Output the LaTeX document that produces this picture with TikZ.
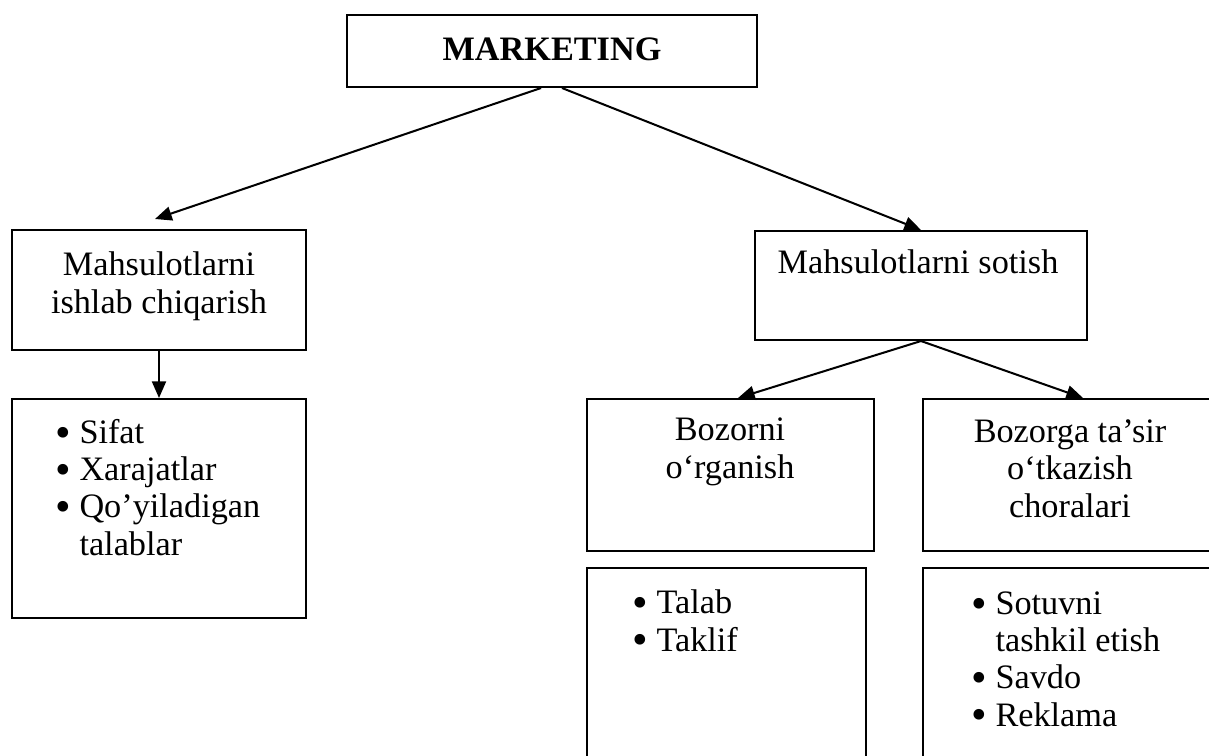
\documentclass[tikz,border=0pt]{standalone}
\usepackage{fontspec}
\setmainfont{Liberation Serif}
\usepackage{tikz}
\usetikzlibrary{arrows.meta,fit}
\definecolor{ink}{HTML}{000000}
\tikzset{
  box/.style={draw=ink, line width=1.15pt, inner sep=0pt, rectangle},
  arr/.style={draw=ink, line width=1.15pt, -{Triangle[length=9.5pt,width=8pt]}},
  lab/.style={text=ink, font=\fontsize{19.5}{21.2}\selectfont, inner sep=0pt, anchor=base},
  labc/.style={lab, align=center},
  list/.style={lab, align=left, anchor=base west},
}
\newcommand{\bul}{\raisebox{-0.11em}{\scalebox{1.3}{\textbullet}}~}
\newcommand{\bulgap}{\phantom{\scalebox{1.3}{\textbullet}}~}

\begin{document}
\begin{tikzpicture}[x=0.02cm,y=-0.02cm]
  \useasboundingbox (0,0) rectangle (1209,755);
  \clip (0,0) rectangle (1209,755);
  % boxes
  \node[box, fit={(347,15) (757,87)}] (mkt) {};
  \node[box, fit={(12,230) (306,350)}] (prod) {};
  \node[box, fit={(12,399) (306,618)}] (prodlist) {};
  \node[box, fit={(755,231) (1087,340)}] (sale) {};
  \node[box, fit={(587,399) (874,551)}] (study) {};
  \node[box, fit={(923,399) (1243,551)}] (act) {};
  \node[box, fit={(587,568) (866,790)}] (studylist) {};
  \node[box, fit={(923,568) (1243,790)}] (actlist) {};
  % texts (placed at the baseline of their last line)
  \node[lab, font=\fontsize{19.5}{21.2}\selectfont\bfseries] (mkttxt) at (552,60) {MARKETING};
  \node[labc] (prodtxt) at (159,313) {Mahsulotlarni\\ishlab chiqarish};
  \node[list] (prodlisttxt) at (55,555) {\bul Sifat\\\bul Xarajatlar\\\bul Qo’yiladigan\\\bulgap talablar};
  \node[lab] (saletxt) at (918,273) {Mahsulotlarni sotish};
  \node[labc] (studytxt) at (730,478) {Bozorni\\o‘rganish};
  \node[labc] (acttxt) at (1070,517) {Bozorga ta’sir\\o‘tkazish\\choralari};
  \node[list] (studylisttxt) at (632,651) {\bul Talab\\\bul Taklif};
  \node[list] (actlisttxt) at (971,726) {\bul Sotuvni\\\bulgap tashkil etish\\\bul Savdo\\\bul Reklama};
  % arrows
  \draw[arr] ([xshift=-0.22cm]mkt.south) -- ([xshift=-0.08cm,yshift=0.2cm]prod.north);
  \draw[arr] ([xshift=0.2cm]mkt.south) -- (sale.north);
  \draw[arr] (prod.south) -- (prodlist.north);
  \draw[arr] (sale.south) -- ([xshift=0.15cm]study.north);
  \draw[arr] (sale.south) -- (act.north);
\end{tikzpicture}
\end{document}
